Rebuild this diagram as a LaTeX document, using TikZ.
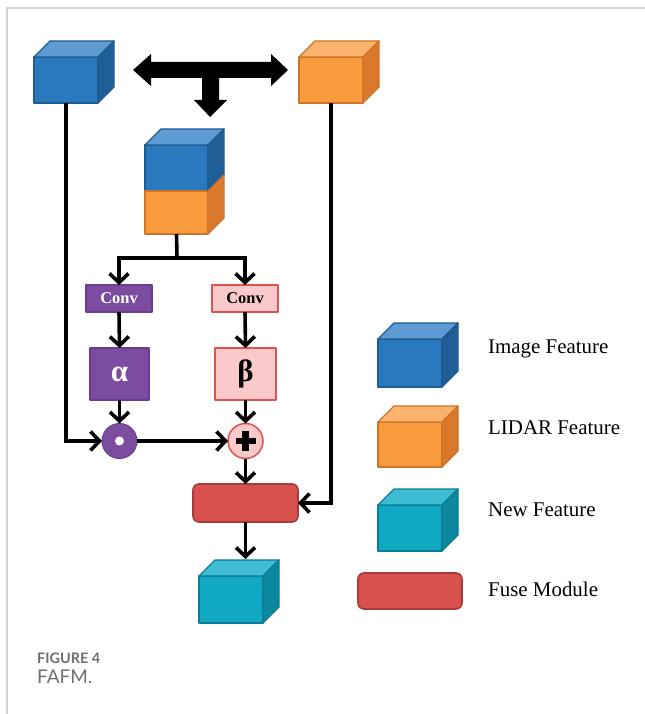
\documentclass[tikz,border=0pt]{standalone}
\usepackage{fontspec}
\setmainfont{Liberation Serif}
\newfontfamily\capfont{Lato}
\usetikzlibrary{arrows.meta}
\definecolor{bf}{HTML}{2A78BD}\definecolor{bt}{HTML}{5E9BD2}\definecolor{bs}{HTML}{1F5E96}\definecolor{be}{HTML}{1E5C91}
\definecolor{of}{HTML}{F79B3C}\definecolor{ot}{HTML}{F9B36E}\definecolor{os}{HTML}{D9782A}\definecolor{oe}{HTML}{D07328}
\definecolor{tf}{HTML}{11A8C3}\definecolor{tt}{HTML}{3DBCD4}\definecolor{ts}{HTML}{0C889E}\definecolor{te}{HTML}{0A7E92}
\definecolor{fusefill}{HTML}{D9514E}\definecolor{fuseedge}{HTML}{A53C3A}
\definecolor{purp}{HTML}{7C4CA0}\definecolor{purpedge}{HTML}{6A3D8F}
\definecolor{pinkf}{HTML}{FAC9C9}\definecolor{pinke}{HTML}{E0524F}
\definecolor{capgray}{HTML}{707070}\definecolor{framegray}{HTML}{D4D4D4}
\tikzset{
  face/.style={line width=1.3bp, line join=round},
  front/.style={draw, face, outer sep=0pt, inner sep=0pt},
  plain/.style={line width=3.6bp},
  conn/.style={line width=3.6bp, -{Straight Barb[length=9bp,width=19bp]}},
  convp/.style={front, fill=purp, draw=purpedge, minimum width=66bp, minimum height=27bp, text=white, font=\fontsize{16.5}{18}\selectfont\bfseries},
  convk/.style={front, fill=pinkf, draw=pinke, minimum width=66bp, minimum height=27bp, font=\fontsize{16.5}{18}\selectfont\bfseries},
  greekp/.style={front, fill=purp, draw=purpedge, minimum width=59bp, minimum height=52bp, text=white, font=\fontsize{31}{34}\selectfont\bfseries},
  greekk/.style={front, fill=pinkf, draw=pinke, minimum width=61bp, minimum height=52bp, font=\fontsize{31}{34}\selectfont\bfseries},
  fusebox/.style={front, fill=fusefill, draw=fuseedge, rounded corners=6bp, line width=1.6bp},
  legtext/.style={anchor=west, inner sep=0pt, font=\fontsize{21}{24}\selectfont},
}
\newcommand\drawcube[6]{%
  \node[front, fill=#6f, draw=#6e, minimum width=#4bp, minimum height=#5bp, anchor=north west] (#1) at (#2,#3) {};
  \filldraw[face, fill=#6t, draw=#6e] (#1.north west) -- ++(16,-16) -- ++(#4,0) -- (#1.north east) -- cycle;
  \filldraw[face, fill=#6s, draw=#6e] (#1.north east) -- ++(16,-16) -- ++(0,#5) -- (#1.south east) -- cycle;
}
\begin{document}
\begin{tikzpicture}[x=1bp,y=-1bp]
\useasboundingbox (0,0) rectangle (645,714);
\fill[white] (0,0) rectangle (645,714);
\draw[framegray, line width=1.5bp] (7,714) -- (7,8) -- (645,8);

% top cubes
\drawcube{imgA}{34}{57}{64}{46}{b}
\drawcube{lidA}{299}{57}{64}{46}{o}

% T arrow
\fill[black] (133,70) -- (151,54) -- (151,62) -- (271,62) -- (271,54) -- (288,70) -- (271,86) -- (271,78)
  -- (219,78) -- (219,100) -- (227,100) -- (210,117) -- (194,100) -- (202,100) -- (202,78)
  -- (151,78) -- (151,86) -- cycle;

% stacked cube
\node[front, fill=bf, draw=be, minimum width=63bp, minimum height=46bp, anchor=north west] (stackimg) at (145,145) {};
\node[front, fill=of, draw=oe, minimum width=63bp, minimum height=43bp, anchor=north west] (stacklid) at (145,191) {};
\filldraw[face, fill=bt, draw=be] (stackimg.north west) -- ++(16,-16) -- ++(63,0) -- (stackimg.north east) -- cycle;
\filldraw[face, fill=bs, draw=be] (stackimg.north east) -- ++(16,-16) -- ++(0,46) -- (stackimg.south east) -- cycle;
\filldraw[face, fill=os, draw=oe] (stacklid.north east) -- ++(16,-16) -- ++(0,43) -- (stacklid.south east) -- cycle;

% branch
\node[convp] (convA) at (119,298.5) {Conv};
\node[convk] (convB) at (245,298.5) {Conv};
\coordinate (split) at (177,258);
\draw[plain] (stacklid.south) -- (split);
\draw[conn] (split) -| (convA.north);
\draw[conn] (split) -| (convB.north);

\node[greekp] (alpha) at (119.5,374) {α};
\node[greekk] (beta) at (245.5,374) {β};
\draw[conn] (convA.south) -- (alpha.north);
\draw[conn] (convB.south) -- (beta.north);

\node[circle, fill=purp, draw=purpedge, line width=1bp, minimum size=35bp, inner sep=0pt, outer sep=0pt] (dot) at (119.5,441) {};
\fill[white] (dot.center) circle (4.5bp);
\node[circle, fill=pinkf, draw=pinke, line width=1.5bp, minimum size=35bp, inner sep=0pt, outer sep=0pt] (plus) at (245.5,441) {};
\draw[line width=6.5bp] ([xshift=-10bp]plus.center) -- ([xshift=10bp]plus.center);
\draw[line width=6.5bp] ([yshift=-10bp]plus.center) -- ([yshift=10bp]plus.center);

\draw[conn] (alpha.south) -- (dot.north);
\draw[conn] (beta.south) -- (plus.north);
\draw[conn] (imgA.south) |- (dot.west);
\draw[conn] (dot.east) -- (plus.west);

\node[fusebox, minimum width=105bp, minimum height=38bp] (fuse) at (245.5,503) {};
\draw[conn] (plus.south) -- (fuse.north);
\draw[conn] (lidA.south) |- (fuse.east);

\drawcube{newF}{199}{576}{64}{47}{t}
\coordinate (newtop) at (245.5,559);
\draw[conn] (fuse.south) -- (newtop);

% legend
\drawcube{legImg}{378}{339}{64}{48}{b}
\drawcube{legLid}{378}{422}{64}{45}{o}
\drawcube{legNew}{378}{505}{64}{46}{t}
\node[fusebox, minimum width=104bp, minimum height=36bp] (legFuse) at (410,591) {};
\node[legtext] (tImg) at (488,349) {Image Feature};
\node[legtext] (tLid) at (488,428) {LIDAR Feature};
\node[legtext] (tNew) at (488,510) {New Feature};
\node[legtext] (tFuse) at (488,589) {Fuse Module};

% caption
\node[anchor=west, inner sep=0pt, text=capgray, font=\capfont\fontsize{14.5}{16}\selectfont\bfseries] (cap1) at (37,658) {FIGURE 4};
\node[anchor=west, inner sep=0pt, text=capgray, font=\capfont\fontsize{19}{21}\selectfont] (cap2) at (37,677) {FAFM.};
\end{tikzpicture}
\end{document}
